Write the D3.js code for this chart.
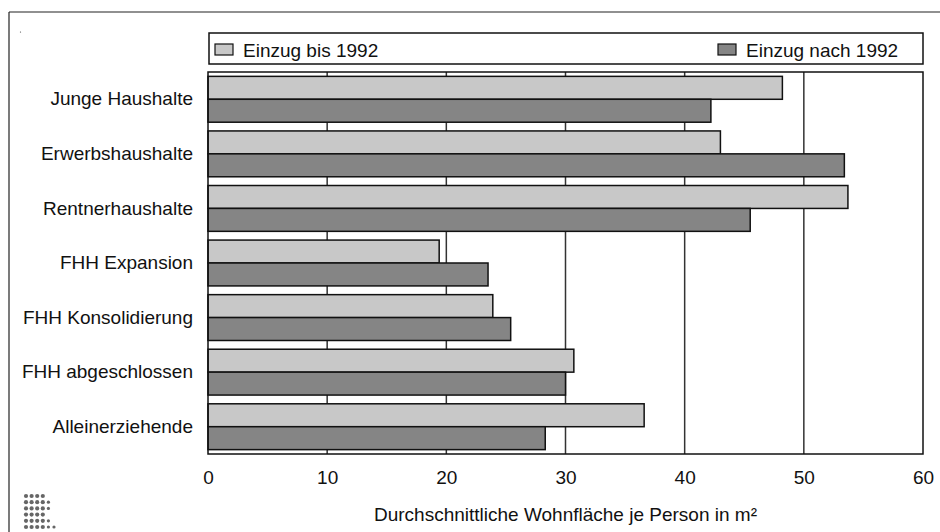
<!DOCTYPE html>
<html>
<head>
<meta charset="utf-8">
<script src="https://cdn.jsdelivr.net/npm/d3@7"></script>
<style>
  body { margin: 0; background: #fff; }
  text { font-family: "Liberation Sans", Arial, sans-serif; fill: #111; }
</style>
</head>
<body>
<div id="chart"></div>
<script>
"use strict";

const categories = [
  "Junge Haushalte",
  "Erwerbshaushalte",
  "Rentnerhaushalte",
  "FHH Expansion",
  "FHH Konsolidierung",
  "FHH abgeschlossen",
  "Alleinerziehende"
];
const seriesNames = ["Einzug bis 1992", "Einzug nach 1992"];
const bis1992 = [48.2, 43.0, 53.7, 19.4, 23.9, 30.7, 36.6];
const nach1992 = [42.2, 53.4, 45.5, 23.5, 25.4, 30.0, 28.3];
const xTicks = [0, 10, 20, 30, 40, 50, 60];
const xTitle = "Durchschnittliche Wohnfläche je Person in m²";

const width = 940;
const height = 532;
const plot = { left: 208, right: 923, top: 72, bottom: 454 };
const colors = ["#c8c8c8", "#858585"];
const fontSize = 19;

const svg = d3.select("#chart")
  .append("svg")
  .attr("width", width)
  .attr("height", height)
;

// frame (top and left edge of the original figure)
svg.append("line")
  .attr("x1", 9).attr("y1", 12).attr("x2", width).attr("y2", 12)
  .attr("stroke", "#222").attr("stroke-width", 1.2);
svg.append("line")
  .attr("x1", 9).attr("y1", 12).attr("x2", 9).attr("y2", height)
  .attr("stroke", "#222").attr("stroke-width", 1.2);
svg.append("circle").attr("cx", 20.5).attr("cy", 32).attr("r", 0.6).attr("fill", "#444");

const xScale = d3.scaleLinear()
  .domain([0, 60])
  .range([plot.left, plot.right]);

const yScale = d3.scaleBand()
  .domain(categories)
  .range([plot.top, plot.bottom])
  .paddingInner(0.16)
  .paddingOuter(0.08);

const subScale = d3.scaleBand()
  .domain(seriesNames)
  .range([0, yScale.bandwidth()]);

// grid lines behind the bars
svg.append("g")
  .selectAll("line")
  .data(xTicks.filter(t => t > 0 && t < 60))
  .join("line")
  .attr("x1", d => xScale(d))
  .attr("x2", d => xScale(d))
  .attr("y1", plot.top)
  .attr("y2", plot.bottom)
  .attr("stroke", "#333")
  .attr("stroke-width", 1.5);

// bars
const rows = categories.map((c, i) => ({ cat: c, values: [bis1992[i], nach1992[i]] }));

svg.append("g")
  .selectAll("g")
  .data(rows)
  .join("g")
  .attr("transform", d => `translate(0,${yScale(d.cat)})`)
  .selectAll("rect")
  .data(d => d.values.map((v, j) => ({ name: seriesNames[j], value: v, j: j })))
  .join("rect")
  .attr("x", xScale(0))
  .attr("y", d => subScale(d.name))
  .attr("width", d => xScale(d.value) - xScale(0))
  .attr("height", subScale.bandwidth())
  .attr("fill", d => colors[d.j])
  .attr("stroke", "#111")
  .attr("stroke-width", 1.5);

// plot frame
svg.append("rect")
  .attr("x", plot.left)
  .attr("y", plot.top)
  .attr("width", plot.right - plot.left)
  .attr("height", plot.bottom - plot.top)
  .attr("fill", "none")
  .attr("stroke", "#111")
  .attr("stroke-width", 1.5);

// category labels
const yAxis = d3.axisLeft(yScale).tickSize(0).tickPadding(15);
svg.append("g")
  .attr("transform", `translate(${plot.left},0)`)
  .call(yAxis)
  .call(g => g.select(".domain").remove())
  .call(g => g.selectAll("text")
    .attr("font-size", fontSize)
    .attr("font-family", "Liberation Sans, Arial, sans-serif")
    .attr("fill", "#111"));

// x axis tick labels
const xAxis = d3.axisBottom(xScale).tickValues(xTicks).tickSize(0).tickPadding(17);
svg.append("g")
  .attr("transform", `translate(0,${plot.bottom})`)
  .call(xAxis)
  .call(g => g.select(".domain").remove())
  .call(g => g.selectAll("text")
    .attr("font-size", fontSize)
    .attr("font-family", "Liberation Sans, Arial, sans-serif")
    .attr("fill", "#111"));

svg.append("text")
  .attr("x", (plot.left + plot.right) / 2)
  .attr("y", 521)
  .attr("text-anchor", "middle")
  .attr("font-size", fontSize)
  .text(xTitle);

// legend
const legend = svg.append("g");
legend.append("rect")
  .attr("x", 209).attr("y", 33)
  .attr("width", plot.right - 209).attr("height", 31)
  .attr("fill", "#fff").attr("stroke", "#111").attr("stroke-width", 1.5);

const legendItems = [
  { name: seriesNames[0], x: 215, color: colors[0] },
  { name: seriesNames[1], x: 718, color: colors[1] }
];
const li = legend.selectAll("g.item")
  .data(legendItems)
  .join("g")
  .attr("class", "item")
  .attr("transform", d => `translate(${d.x},44)`);
li.append("rect")
  .attr("width", 18).attr("height", 11)
  .attr("fill", d => d.color)
  .attr("stroke", "#111").attr("stroke-width", 1.2);
li.append("text")
  .attr("x", 28).attr("y", 13)
  .attr("font-size", fontSize)
  .text(d => d.name);

// dotted logo bottom-left
const logoRows = [4, 5, 5, 4, 5, 6];
const logo = svg.append("g").attr("fill", "#666");
logoRows.forEach((n, r) => {
  for (let c = 0; c < n; c++) {
    logo.append("circle")
      .attr("cx", 26 + c * 5.6)
      .attr("cy", 496 + r * 6.2)
      .attr("r", c < 4 ? 2.1 : 1.6);
  }
});
</script>
</body>
</html>
